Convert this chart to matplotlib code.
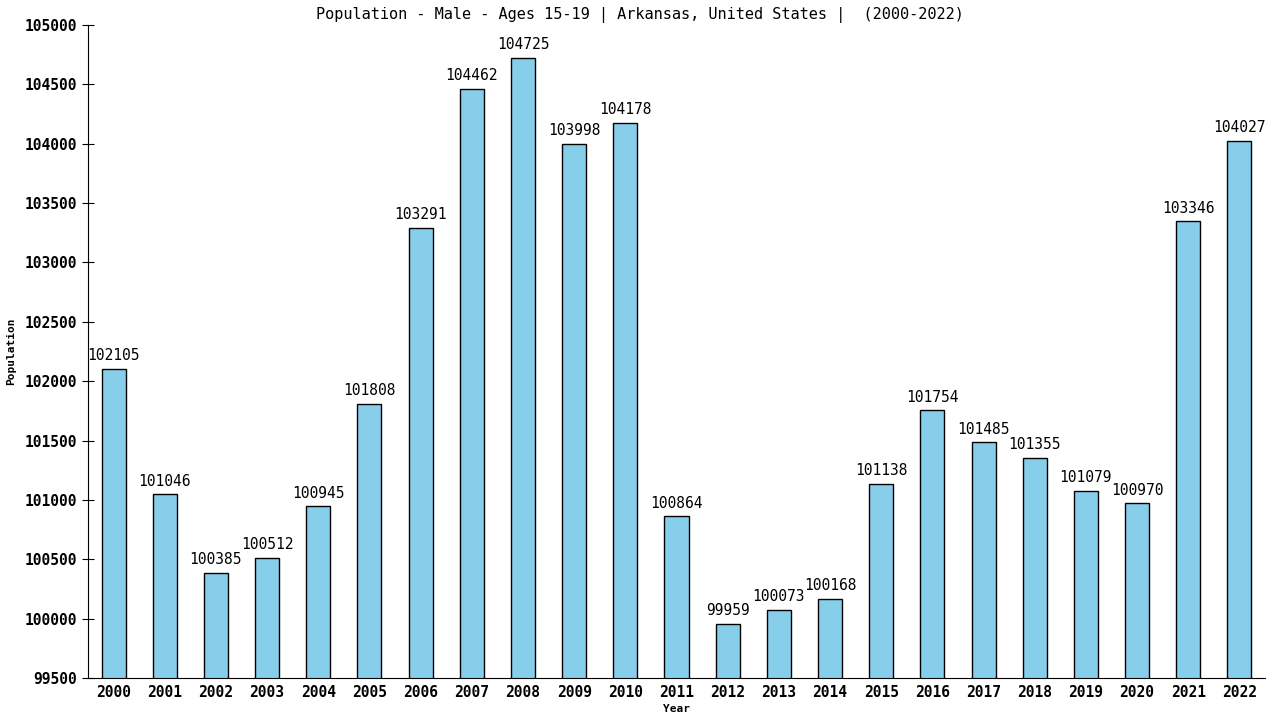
import numpy as np
import matplotlib.pyplot as plt

years = [str(y) for y in range(2000, 2023)]
population = [102105, 101046, 100385, 100512, 100945, 101808, 103291, 104462,
              104725, 103998, 104178, 100864, 99959, 100073, 100168, 101138,
              101754, 101485, 101355, 101079, 100970, 103346, 104027]
yticks = list(range(99500, 105001, 500))

plt.rcParams['font.family'] = ['DejaVu Sans Mono']

fig = plt.figure(figsize=(12.8, 7.2), dpi=100)
ax = fig.add_axes([88 / 1280, 42 / 720, (1265 - 88) / 1280, (678 - 25) / 720])

x = np.arange(len(years))
ax.bar(x, population, width=0.47, color='#87ceeb', edgecolor='black', linewidth=1)
for xi, v in zip(x, population):
    ax.annotate(str(v), (xi, v), xytext=(0, 4), textcoords='offset points',
                ha='center', va='bottom', fontsize=10.5)

ax.set_xlim(-0.5, len(years) - 0.5)
ax.set_ylim(99500, 105000)
ax.set_yticks(yticks)
ax.set_yticklabels([str(t) for t in yticks], fontsize=10.5, fontweight='bold')
ax.set_xticks(x)
ax.set_xticklabels(years, fontsize=10.5, fontweight='bold')
ax.tick_params(axis='x', length=0, pad=5)
ax.tick_params(axis='y', direction='inout', length=8, pad=4)
for s in ['top', 'right']:
    ax.spines[s].set_visible(False)

ax.set_ylabel('Population', fontsize=8, fontweight='bold', labelpad=6)
ax.set_xlabel('Year', fontsize=8, fontweight='bold', labelpad=3)
fig.suptitle('Population - Male - Ages 15-19 | Arkansas, United States |  (2000-2022)',
             fontsize=11, y=0.99, x=0.5)

fig.savefig('out.png', dpi=100)
